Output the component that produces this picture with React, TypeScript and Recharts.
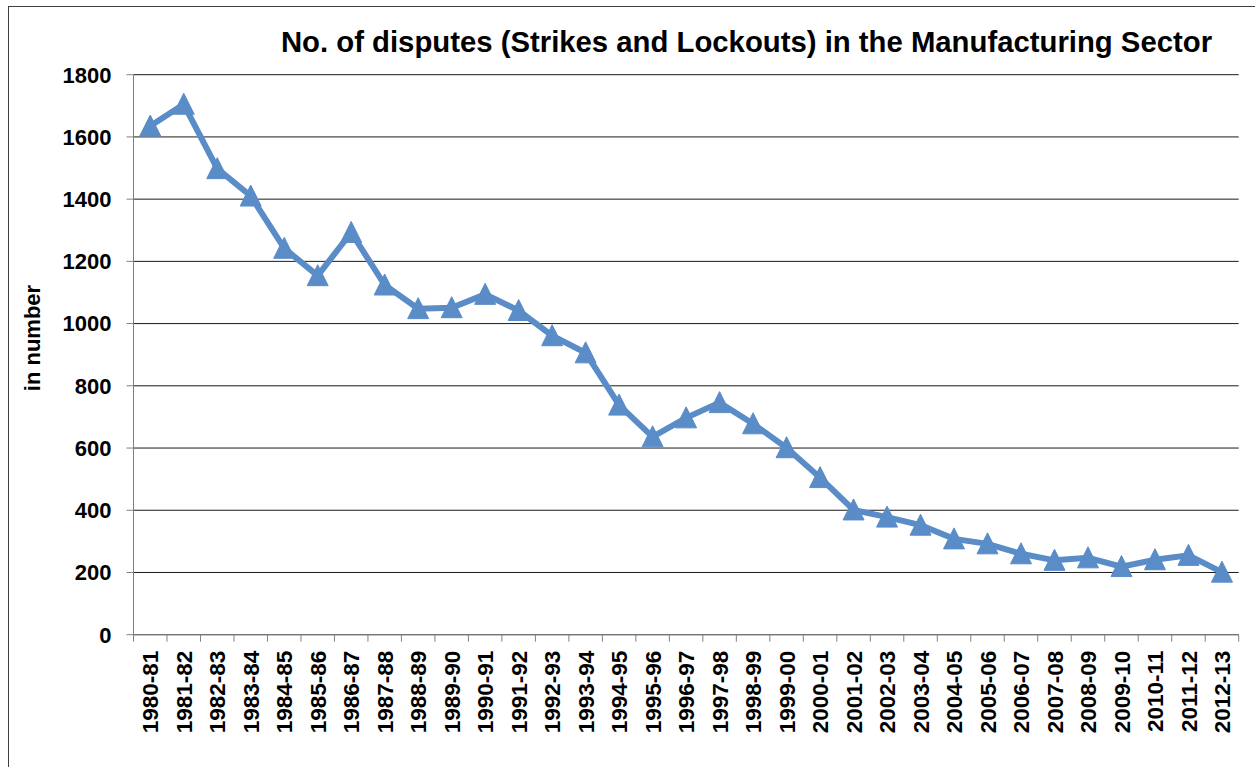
import React from 'react'
import { LineChart, Line, XAxis, YAxis, CartesianGrid } from 'recharts'

const periods = [
  '1980-81', '1981-82', '1982-83', '1983-84', '1984-85', '1985-86', '1986-87', '1987-88',
  '1988-89', '1989-90', '1990-91', '1991-92', '1992-93', '1993-94', '1994-95', '1995-96',
  '1996-97', '1997-98', '1998-99', '1999-00', '2000-01', '2001-02', '2002-03', '2003-04',
  '2004-05', '2005-06', '2006-07', '2007-08', '2008-09', '2009-10', '2010-11', '2011-12',
  '2012-13',
]

const disputes = [
  1635, 1705, 1498, 1410, 1242, 1154, 1293, 1124, 1048, 1051, 1094, 1042, 961, 906, 738, 636,
  697, 746, 678, 601, 505, 401, 378, 352, 308, 292, 260, 239, 247, 219, 241, 255, 201,
]

const yTicks = [0, 200, 400, 600, 800, 1000, 1200, 1400, 1600, 1800]

const data = periods.map((period, i) => ({ period, disputes: disputes[i] }))

const FONT = '"Liberation Sans", Arial, sans-serif'
const BLUE = '#5A8CC8'
const AXIS = '#808080'

// triangle marker centred on the data point
const TriangleDot = (props: any) => {
  const { cx, cy } = props
  if (cx == null || cy == null) return null
  const w = 10.5
  return (
    <polygon
      points={`${cx},${cy - 11} ${cx + w},${cy + 10} ${cx - w},${cy + 10}`}
      fill={BLUE}
      stroke={BLUE}
      strokeWidth={1}
    />
  )
}

// rotated category label + tick mark at the left edge of each band
const PeriodTick = (props: any) => {
  const { x, y, payload, index } = props
  const half = payload?.offset || 16.74
  const last = index === periods.length - 1
  return (
    <g>
      <line x1={x - half} y1={y} x2={x - half} y2={y + 7} stroke={AXIS} />
      {last && <line x1={x + half} y1={y} x2={x + half} y2={y + 7} stroke={AXIS} />}
      <text
        x={x}
        y={y + 16}
        dy="0.36em"
        transform={`rotate(-90 ${x} ${y + 16})`}
        textAnchor="end"
        fontFamily={FONT}
        fontWeight="bold"
        fontSize={22.5}
        fill="#000"
      >
        {payload.value}
      </text>
    </g>
  )
}

const YTitle = () => (
  <text
    x={40}
    y={338}
    transform="rotate(-90 40 338)"
    textAnchor="middle"
    fontFamily={FONT}
    fontWeight="bold"
    fontSize={22}
    fill="#000"
  >
    in number
  </text>
)

export default function App() {
  return (
    <div
      style={{
        position: 'absolute',
        left: 0,
        top: 0,
        width: 1255,
        height: 767,
        overflow: 'hidden',
        background: '#fff',
      }}
    >
      <div
        style={{
          position: 'absolute',
          left: 8,
          top: 6,
          width: 1400,
          height: 900,
          borderLeft: '1px solid #404040',
          borderTop: '1px solid #404040',
        }}
      />
      <div
        style={{
          position: 'absolute',
          left: 263,
          top: 28,
          width: 967,
          textAlign: 'center',
          whiteSpace: 'nowrap',
          fontFamily: FONT,
          fontWeight: 'bold',
          fontSize: 29.3,
          lineHeight: '28px',
          color: '#000',
        }}
      >
        No. of disputes (Strikes and Lockouts) in the Manufacturing Sector
      </div>
      <div style={{ position: 'absolute', left: 0, top: 0 }}>
        <LineChart
          width={1255}
          height={767}
          data={data}
          margin={{ top: 74.7, right: 16.3, bottom: 0, left: 0 }}
        >
          <CartesianGrid horizontal vertical={false} stroke="#000" strokeOpacity={0.9} />
          <XAxis
            dataKey="period"
            scale="band"
            interval={0}
            height={132.3}
            tickSize={0}
            tickMargin={0}
            tickLine={false}
            axisLine={{ stroke: AXIS }}
            tick={<PeriodTick />}
          />
          <YAxis
            width={133.5}
            domain={[0, 1800]}
            ticks={yTicks}
            interval={0}
            tickSize={7}
            tickMargin={15}
            tickLine={{ stroke: AXIS }}
            axisLine={{ stroke: AXIS }}
            tick={{ fontFamily: FONT, fontWeight: 'bold', fontSize: 22, fill: '#000' }}
            label={{ content: <YTitle /> }}
          />
          <Line
            type="linear"
            dataKey="disputes"
            stroke={BLUE}
            strokeWidth={6}
            dot={<TriangleDot />}
            activeDot={false}
            isAnimationActive={false}
          />
        </LineChart>
      </div>
    </div>
  )
}
